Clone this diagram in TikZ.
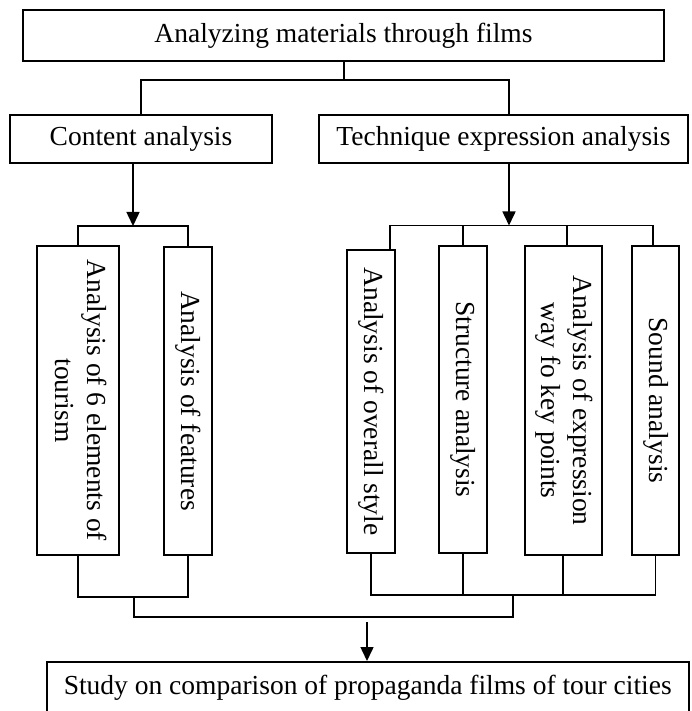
\documentclass[tikz,border=0pt]{standalone}
\usepackage{fontspec}
\setmainfont{Liberation Serif}
\usepackage{graphicx}
\usetikzlibrary{arrows.meta}
\tikzset{
  box/.style={draw, line width=1.5pt, inner sep=0pt, font=\fontsize{27.5}{32}\selectfont},
  link/.style={line width=1.5pt},
  arr/.style={link, -{Triangle[length=14pt,width=13pt]}},
}
\newcommand{\vtext}[1]{\rotatebox{-90}{\begin{tabular}{@{}c@{}}#1\end{tabular}}}
\begin{document}
\begin{tikzpicture}[x=1pt,y=-1pt]
\useasboundingbox (0,0) rectangle (691,711);
% top level
\node[box, minimum width=641pt, minimum height=51pt] (top) at (343.5,35.5) {Analyzing materials through films};
\node[box, minimum width=262pt, minimum height=48pt] (content) at (141,139) {Content analysis};
\node[box, minimum width=369pt, minimum height=48pt] (tech) at (503.5,139) {Technique expression analysis};
% vertical boxes
\node[box, minimum width=82pt, minimum height=309pt] (b1) at (78,400.5) {\vtext{Analysis of 6 elements of\\tourism}};
\node[box, minimum width=48pt, minimum height=308pt] (b2) at (188,401) {\vtext{Analysis of features}};
\node[box, minimum width=48pt, minimum height=303pt] (bA) at (371,401.5) {\vtext{Analysis of overall style}};
\node[box, minimum width=48pt, minimum height=307pt] (bB) at (463,399.5) {\vtext{Structure analysis}};
\node[box, minimum width=77pt, minimum height=309pt] (bC) at (563.5,400.5) {\vtext{Analysis of expression\\way fo key points}};
\node[box, minimum width=47pt, minimum height=309pt] (bD) at (655.5,400.5) {\vtext{Sound analysis}};
% bottom box
\node[box, minimum width=642pt, minimum height=52pt, anchor=north west] (study) at (46,661) {Study on comparison of propaganda films of tour cities};
% connectors top
\coordinate (t1) at (344,80);
\draw[link] (344,0 |- top.south) -- (t1);
\draw[link] (content.north) -- (content.north |- t1) -- (509,80) -- (509,0 |- tech.north);
% arrows to brackets
\draw[arr] (133,0 |- content.south) -- (133,226);
\draw[arr] (509,0 |- tech.south) -- (509,225.5);
% left bracket
\draw[link] (b1.north) -- (b1.north |- 0,226) -- (b2.north |- 0,226) -- (b2.north);
% right bracket
\draw[link] (390,0 |- bA.north) -- (390,225.5) -- (653,225.5) -- (653,0 |- bD.north);
\draw[link] (bB.north) -- (bB.north |- 0,225.5);
\draw[link] (567,0 |- bC.north) -- (567,225.5);
% bottom left bracket
\draw[link] (b1.south) -- (b1.south |- 0,597) -- (b2.south |- 0,597) -- (b2.south);
% bottom right bracket
\draw[link] (bA.south) -- (bA.south |- 0,595) -- (bD.south |- 0,595) -- (bD.south);
\draw[link] (bB.south) -- (bB.south |- 0,595);
\draw[link] (563,0 |- bC.south) -- (563,595);
% join
\draw[link] (134,597) -- (134,617) -- (513,617) -- (513,595);
\draw[arr] (367,622) -- (study.north -| 367,0);
\end{tikzpicture}
\end{document}
